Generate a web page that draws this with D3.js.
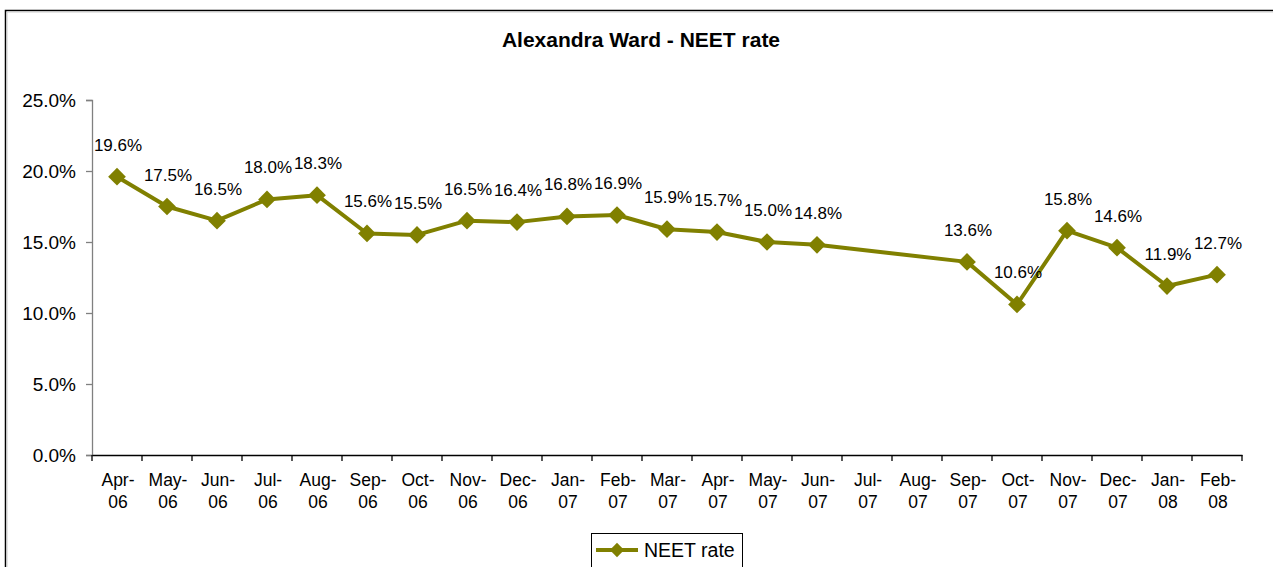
<!DOCTYPE html>
<html><head><meta charset="utf-8">
<script src="https://cdn.jsdelivr.net/npm/d3@7"></script>
<style>body{margin:0;background:#fff}svg{display:block;font-family:"Liberation Sans",Arial,sans-serif}</style>
</head><body><svg id="c" width="1273" height="567"></svg>
<script>
const title = "Alexandra Ward - NEET rate";
const seriesName = "NEET rate";
const months = ["Apr-","May-","Jun-","Jul-","Aug-","Sep-","Oct-","Nov-","Dec-","Jan-","Feb-","Mar-","Apr-","May-","Jun-","Jul-","Aug-","Sep-","Oct-","Nov-","Dec-","Jan-","Feb-"];
const years = ["06","06","06","06","06","06","06","06","06","07","07","07","07","07","07","07","07","07","07","07","07","08","08"];
const values = [19.6,17.5,16.5,18.0,18.3,15.6,15.5,16.5,16.4,16.8,16.9,15.9,15.7,15.0,14.8,null,null,13.6,10.6,15.8,14.6,11.9,12.7];
const yTicks = [0,5,10,15,20,25];

const svg = d3.select("#c");
const color = "#808000";
const pLeft = 92, pRight = 1242, pTop = 100, pBottom = 455;

// frame
svg.append("path").attr("d","M5.5,567 V10.5 H1273").attr("fill","none").attr("stroke","#000").attr("stroke-width",1.5);
svg.append("path").attr("d","M7,567 V12 H1273").attr("fill","none").attr("stroke","#ccc").attr("stroke-width",1);

svg.append("text").attr("x",641).attr("y",47).attr("text-anchor","middle")
  .attr("font-size",21).attr("font-weight","bold").text(title);

const idx = d3.range(months.length);
const x = d3.scaleBand().domain(idx).range([pLeft,pRight]);
const y = d3.scaleLinear().domain([0,25]).range([pBottom,pTop]);

// y axis
const ya = svg.append("g").attr("transform",`translate(${pLeft},0)`)
  .call(d3.axisLeft(y).tickValues(yTicks).tickSize(6).tickFormat(d=>d.toFixed(1)+"%"));
ya.select(".domain").attr("stroke","#808080").attr("stroke-width",1.3);
ya.selectAll(".tick line").attr("stroke","#808080").attr("stroke-width",1.3);
ya.selectAll(".tick text").attr("font-size",19).attr("fill","#000").attr("font-family","Liberation Sans, Arial").attr("x",-16);

// x axis
const xa = svg.append("g").attr("transform",`translate(0,${pBottom})`)
  .call(d3.axisBottom(x).tickSize(0).tickFormat(""));
xa.select(".domain").attr("stroke","#000").attr("stroke-width",1.3);
const edges = d3.range(months.length+1).map(i => i<months.length ? x(i) : x(months.length-1)+x.bandwidth());
xa.selectAll(".edge").data(edges).join("line").attr("class","edge")
  .attr("x1",d=>d).attr("x2",d=>d).attr("y1",0).attr("y2",6).attr("stroke","#000").attr("stroke-width",1.3);
const xl = xa.selectAll(".lbl").data(idx).join("text").attr("class","lbl")
  .attr("text-anchor","middle").attr("font-size",17.5).attr("fill","#000").attr("font-family","Liberation Sans, Arial")
  .attr("transform",d=>`translate(${x(d)+x.bandwidth()/2+1},0)`);
xl.append("tspan").attr("x",0).attr("y",31).text(d=>months[d]);
xl.append("tspan").attr("x",0).attr("y",53).text(d=>years[d]);

// line
const pts = idx.filter(i=>values[i]!=null).map(i=>({i,v:values[i]}));
const cx = d=>x(d.i)+x.bandwidth()/2;
svg.append("path").datum(pts).attr("fill","none").attr("stroke",color).attr("stroke-width",4)
  .attr("stroke-linejoin","round")
  .attr("d",d3.line().x(cx).y(d=>y(d.v)));
const sym = d3.symbol().type(d3.symbolDiamond2).size(200);
svg.selectAll(".mk").data(pts).join("path").attr("class","mk")
  .attr("transform",d=>`translate(${cx(d)},${y(d.v)})`).attr("d",sym()).attr("fill",color);
svg.selectAll(".dl").data(pts).join("text").attr("class","dl")
  .attr("x",d=>cx(d)+1).attr("y",d=>y(d.v)-26).attr("text-anchor","middle")
  .attr("font-size",17).attr("fill","#000").text(d=>d.v.toFixed(1)+"%");

// legend
const lg = svg.append("g");
lg.append("rect").attr("x",591.5).attr("y",533.5).attr("width",151).attr("height",40).attr("fill","#fff").attr("stroke","#000").attr("stroke-width",1);
lg.append("line").attr("x1",596).attr("x2",638).attr("y1",550).attr("y2",550).attr("stroke",color).attr("stroke-width",4);
lg.append("path").attr("transform","translate(617,550)").attr("d",d3.symbol().type(d3.symbolDiamond2).size(130)()).attr("fill",color);
lg.append("text").attr("x",644).attr("y",557).attr("font-size",19.5).text(seriesName);
</script></body></html>
